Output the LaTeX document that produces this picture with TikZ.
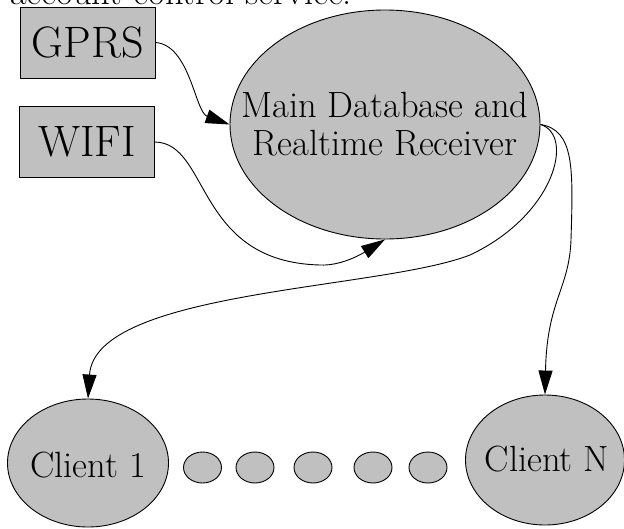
\documentclass[tikz,border=0pt]{standalone}
\usetikzlibrary{arrows.meta,shapes.geometric}
\definecolor{Ink}{RGB}{0,0,0}
\definecolor{Fill}{RGB}{192,192,192}
\tikzset{
  >=Latex,
  box/.style={draw=Ink,line width=.9pt,fill=Fill,minimum width=135pt,minimum height=71pt,inner sep=0pt,font=\fontsize{44}{48}\selectfont},
  hub/.style={ellipse,draw=Ink,line width=.9pt,fill=Fill,inner sep=0pt,minimum width=310pt,minimum height=229pt},
  client/.style={hub,minimum width=161pt,minimum height=128pt},
  dot/.style={hub,minimum width=38pt,minimum height=31pt},
  txt/.style={font=\fontsize{36.5}{38}\selectfont,align=center,inner sep=0pt},
  link/.style={-{Triangle[length=24pt,width=14pt]},line width=.9pt,draw=Ink}
}
\begin{document}
\begin{tikzpicture}[x=1pt,y=-1pt]
  \useasboundingbox (0,0) rectangle (624,528);
  \clip (0,0) rectangle (624,528);
  \node[txt,anchor=base west] (note) at (10,4) {account control service.};
  % sources
  \node[box] (gprs) at (87.5,42.5) {GPRS};
  \node[box] (wifi) at (87,142) {WIFI};
  % receiver
  \node[hub] (main) at (385,124.5) {};
  \node[txt] (maintext) at (main) {Main Database and\\Realtime Receiver};
  % clients
  \node[client] (c1) at (88,463) {};
  \node[txt] (c1text) at ([yshift=-2pt]c1) {Client 1};
  \node[client,minimum width=159pt,minimum height=130pt] (cN) at (545,460) {};
  \node[txt] (cNtext) at ([xshift=2pt,yshift=1pt]cN) {Client N};
  \foreach \i/\x in {1/202.5,2/255,3/313,4/373,5/428}{\node[dot] (d\i) at (\x,467.5) {};}
  % links
  \draw[link] (gprs.east) .. controls (190,45) and (195,112) .. (main.west);
  \draw[link] (wifi.east) .. controls (210,143) and (195,262) .. (320,265) .. controls (340,266) and (360,255) .. (main.south);
  \draw[link] (main.east) .. controls (575,135) and (555,215) .. (470,255) .. controls (380,290) and (95,290) .. (c1.north);
  \draw[link] (main.east) .. controls (575,130) and (573,170) .. (571,240) .. controls (569,290) and (547,300) .. (cN.north);
\end{tikzpicture}
\end{document}
